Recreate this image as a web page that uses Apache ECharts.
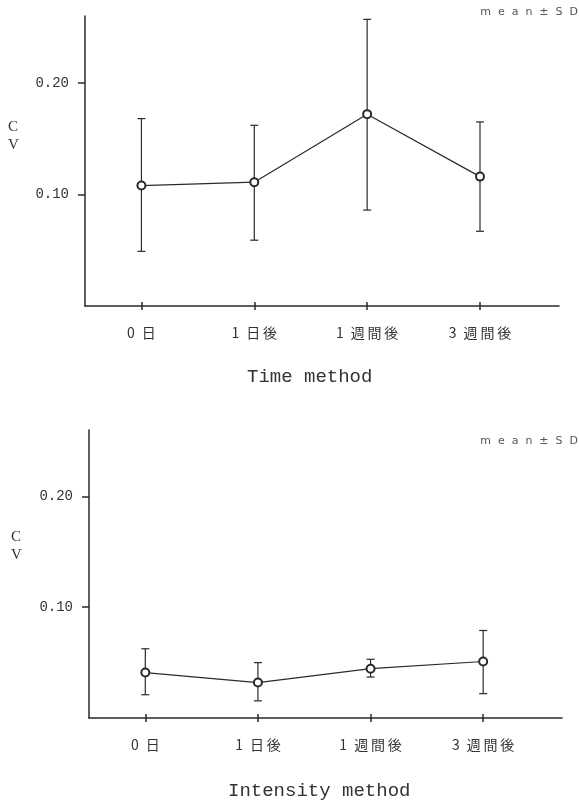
<!DOCTYPE html>
<html>
<head>
<meta charset="utf-8">
<script src="https://cdn.jsdelivr.net/npm/echarts@6/dist/echarts.min.js"></script>
<style>
html, body { margin: 0; padding: 0; background: #fff; }
#main { width: 579px; height: 800px; }
</style>
</head>
<body>
<div id="main"></div>
<script>
// 横軸の時点
var categories = ['0\u2002日', '1\u2002日\u2009後', '1\u2002週\u2009間\u2009後', '3\u2002週\u2009間\u2009後'];
var catPos = [0, 1, 2, 3];
var yTicks = [0.1, 0.2];

// Time method (mean, mean-SD, mean+SD)
var timeMean = [0.108, 0.111, 0.172, 0.116];
var timeLow = [0.049, 0.059, 0.086, 0.067];
var timeHigh = [0.168, 0.162, 0.257, 0.165];

// Intensity method
var intMean = [0.041, 0.032, 0.0445, 0.051];
var intLow = [0.021, 0.0155, 0.037, 0.022];
var intHigh = [0.0625, 0.050, 0.053, 0.079];

var lineColor = '#2a2a2a';
var monoFont = '"Liberation Mono", "DejaVu Sans Mono", monospace';
var cjkFont = '"Noto Sans CJK JP", "Noto Sans", sans-serif';

function pairs(mean) {
	return catPos.map(function(x, i) { return [x, mean[i]]; });
}
function bars(low, high) {
	return catPos.map(function(x, i) { return [x, low[i], high[i]]; });
}

// エラーバー
function renderErr(params, api) {
	var x = api.value(0);
	var lo = api.coord([x, api.value(1)]);
	var hi = api.coord([x, api.value(2)]);
	var w = 4;
	var st = { stroke: lineColor, lineWidth: 1.2 };
	return {
		type: 'group',
		children: [
			{ type: 'line', shape: { x1: lo[0], y1: lo[1], x2: hi[0], y2: hi[1] }, style: st },
			{ type: 'line', shape: { x1: lo[0] - w, y1: lo[1], x2: lo[0] + w, y2: lo[1] }, style: st },
			{ type: 'line', shape: { x1: hi[0] - w, y1: hi[1], x2: hi[0] + w, y2: hi[1] }, style: st }
		]
	};
}

function xAxisPair(gridIndex) {
	var base = {
		type: 'value',
		gridIndex: gridIndex,
		min: -0.5,
		max: 3.7,
		splitLine: { show: false }
	};
	return [
		Object.assign({}, base, {
			position: 'bottom',
			axisLine: { show: true, onZero: false, lineStyle: { color: lineColor, width: 1.5 } },
			axisTick: { show: true, inside: false, length: 4, customValues: catPos, lineStyle: { color: lineColor, width: 1.5 } },
			axisLabel: {
				show: true,
				customValues: catPos,
				margin: 20,
				color: '#333',
				fontSize: 14,
				fontFamily: cjkFont,
				formatter: function(v) { return categories[Math.round(v)]; }
			}
		}),
		// 軸の上側に出る目盛り
		Object.assign({}, base, {
			position: 'bottom',
			offset: 0,
			axisLine: { show: false, onZero: false },
			axisTick: { show: true, inside: true, length: 4, customValues: catPos, lineStyle: { color: lineColor, width: 1.5 } },
			axisLabel: { show: false }
		})
	];
}

function yAxisOf(gridIndex) {
	return {
		type: 'value',
		gridIndex: gridIndex,
		min: 0,
		max: 0.26,
		splitLine: { show: false },
		axisLine: { show: true, onZero: false, lineStyle: { color: lineColor, width: 1.5 } },
		axisTick: { show: true, length: 7, customValues: yTicks, lineStyle: { color: lineColor, width: 1.5 } },
		axisLabel: {
			customValues: yTicks,
			margin: 16,
			color: '#333',
			fontSize: 14,
			fontFamily: monoFont,
			formatter: function(v) { return v.toFixed(2); }
		}
	};
}

var myChart = echarts.init(document.getElementById('main'), null, { renderer: 'canvas' });

var noteStyle = { fontSize: 11, fontWeight: 'normal', color: '#555', fontFamily: '"DejaVu Sans", sans-serif' };
var cvStyle = { fontSize: 15, fontWeight: 'normal', color: '#333', lineHeight: 18, fontFamily: '"Liberation Serif", serif' };
var nameStyle = { fontSize: 19, fontWeight: 'normal', color: '#333', fontFamily: monoFont };

var option = {
	backgroundColor: '#fff',
	animation: false,
	title: [
		{ text: 'm  e  a  n  ±  S  D', right: -4, top: 2, textStyle: noteStyle },
		{ text: 'C\nV', left: 3, top: 113, textStyle: cvStyle },
		{ text: 'Time method', left: 242, top: 362, textStyle: nameStyle },
		{ text: 'm  e  a  n  ±  S  D', right: -4, top: 431, textStyle: noteStyle },
		{ text: 'C\nV', left: 6, top: 523, textStyle: cvStyle },
		{ text: 'Intensity method', left: 223, top: 776, textStyle: nameStyle }
	],
	grid: [
		{ left: 85, top: 16, width: 474, height: 290 },
		{ left: 89, top: 430, width: 473, height: 288 }
	],
	xAxis: xAxisPair(0).concat(xAxisPair(1)),
	yAxis: [yAxisOf(0), yAxisOf(1)],
	series: [
		{
			name: 'Time method',
			type: 'line',
			xAxisIndex: 0,
			yAxisIndex: 0,
			data: pairs(timeMean),
			symbol: 'emptyCircle',
			symbolSize: 8,
			lineStyle: { color: lineColor, width: 1.2 },
			itemStyle: { color: lineColor, borderWidth: 0.9 }
		},
		{
			type: 'custom',
			xAxisIndex: 0,
			yAxisIndex: 0,
			renderItem: renderErr,
			encode: { x: 0, y: [1, 2] },
			data: bars(timeLow, timeHigh),
			z: 3
		},
		{
			name: 'Intensity method',
			type: 'line',
			xAxisIndex: 2,
			yAxisIndex: 1,
			data: pairs(intMean),
			symbol: 'emptyCircle',
			symbolSize: 8,
			lineStyle: { color: lineColor, width: 1.2 },
			itemStyle: { color: lineColor, borderWidth: 0.9 }
		},
		{
			type: 'custom',
			xAxisIndex: 2,
			yAxisIndex: 1,
			renderItem: renderErr,
			encode: { x: 0, y: [1, 2] },
			data: bars(intLow, intHigh),
			z: 3
		}
	]
};

myChart.setOption(option);
</script>
</body>
</html>
